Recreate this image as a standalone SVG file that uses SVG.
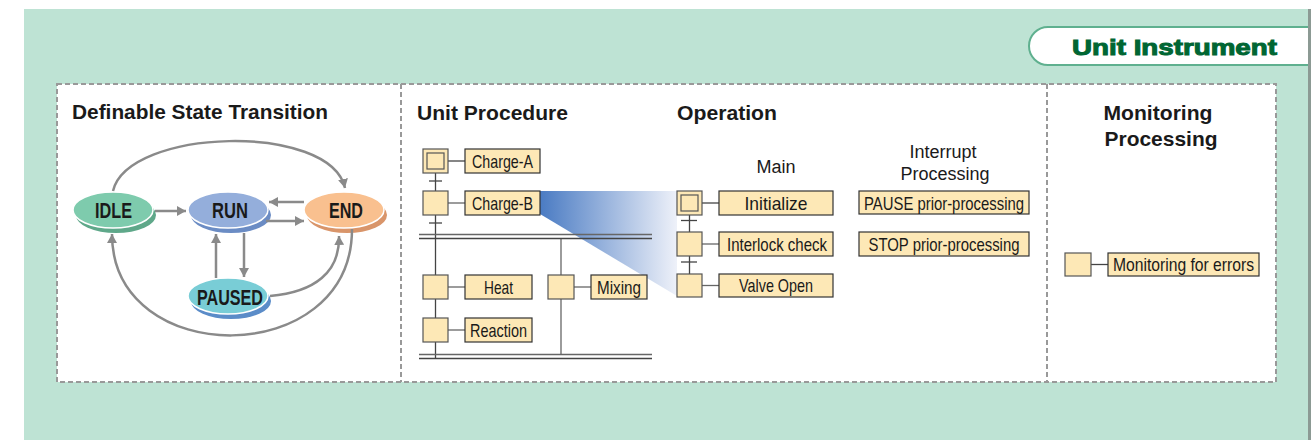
<svg xmlns="http://www.w3.org/2000/svg" width="1316" height="440" viewBox="0 0 1316 440">
<style>
.hd{font-family:"Liberation Sans",Arial,sans-serif;font-weight:bold;font-size:20.5px;fill:#1a1a1a}
.sub{font-family:"Liberation Sans",Arial,sans-serif;font-size:18px;fill:#1a1a1a}
.st{font-family:"Liberation Sans",Arial,sans-serif;font-weight:bold;font-size:21.5px;fill:#1a1a1a}
.lb{font-family:"Liberation Sans",Arial,sans-serif;font-size:18.5px;fill:#1a1a1a}
.box{fill:#fde8b6;stroke:#333;stroke-width:1.2}
.step{fill:#fde8b6;stroke:#555;stroke-width:1.2}
.ln{stroke:#444;stroke-width:1.3;fill:none}
.gl{stroke:#666;stroke-width:1.3;fill:none}
.dash{fill:none;stroke:#999;stroke-width:2;stroke-dasharray:5 3}
.arr{fill:none;stroke:#8a8a8a;stroke-width:2.5;marker-end:url(#ah)}
.top{stroke:#fff;stroke-width:1.5}
</style>
<defs>
<marker id="ah" markerUnits="userSpaceOnUse" markerWidth="10" markerHeight="10" refX="9" refY="5" orient="auto">
<path d="M0,0 L9,5 L0,10 z" fill="#8a8a8a"/>
</marker>
<linearGradient id="bg" x1="0" y1="0" x2="1" y2="0">
<stop offset="0" stop-color="#4a7bc3"/>
<stop offset="1" stop-color="#eef1f9"/>
</linearGradient>
</defs>
<rect x="0" y="0" width="1316" height="440" fill="#fff"/>
<rect x="24" y="9" width="1285" height="431" fill="#bee3d4"/>
<rect x="1308" y="9" width="3" height="431" fill="#8c9a94"/>
<g id="tab">
<path d="M1308,27 L1048,27 A19,19 0 0 0 1048,65 L1308,65" fill="#fff" stroke="#5fb08f" stroke-width="2"/>
<text x="1072" y="55" textLength="205" lengthAdjust="spacingAndGlyphs" style="font-family:'Liberation Sans',Arial,sans-serif;font-weight:bold;font-size:22px;fill:#006633;stroke:#006633;stroke-width:1">Unit Instrument</text>
</g>
<g id="frame">
<rect x="57" y="84" width="1219" height="298" fill="#fff"/>
<rect x="57" y="84" width="1219" height="298" class="dash"/>
<line x1="401" y1="84" x2="401" y2="382" class="dash"/>
<line x1="1047" y1="84" x2="1047" y2="382" class="dash"/>
</g>
<g id="headings">
<text x="72" y="119" class="hd" textLength="256" lengthAdjust="spacingAndGlyphs">Definable State Transition</text>
<text x="417" y="120" class="hd" textLength="151" lengthAdjust="spacingAndGlyphs">Unit Procedure</text>
<text x="677" y="120" class="hd" textLength="100" lengthAdjust="spacingAndGlyphs">Operation</text>
<text x="1103.5" y="120" class="hd" textLength="109" lengthAdjust="spacingAndGlyphs">Monitoring</text>
<text x="1104.5" y="146" class="hd" textLength="113" lengthAdjust="spacingAndGlyphs">Processing</text>
<text x="776" y="173" class="sub" text-anchor="middle">Main</text>
<text x="943" y="158" class="sub" text-anchor="middle">Interrupt</text>
<text x="945" y="180" class="sub" text-anchor="middle">Processing</text>
</g>
<g id="state-idle">
<ellipse cx="116" cy="215" rx="40" ry="18" fill="#5fa88a"/>
<ellipse cx="113" cy="210" rx="40" ry="18" fill="#7ecbad" class="top"/>
<text x="95" y="218" class="st" textLength="37" lengthAdjust="spacingAndGlyphs">IDLE</text>
</g>
<g id="state-run">
<ellipse cx="231" cy="215" rx="40" ry="18" fill="#6b8cc4"/>
<ellipse cx="228" cy="210" rx="40" ry="18" fill="#94aedb" class="top"/>
<text x="212" y="218" class="st" textLength="36" lengthAdjust="spacingAndGlyphs">RUN</text>
</g>
<g id="state-end">
<ellipse cx="347" cy="215" rx="40" ry="18" fill="#d9956a"/>
<ellipse cx="344" cy="210" rx="40" ry="18" fill="#f9c08f" class="top"/>
<text x="329" y="218" class="st" textLength="34" lengthAdjust="spacingAndGlyphs">END</text>
</g>
<g id="state-paused">
<ellipse cx="231" cy="301" rx="40" ry="18" fill="#5b8cc8"/>
<ellipse cx="228" cy="296" rx="40" ry="18" fill="#79cdd6" class="top"/>
<text x="197" y="305" class="st" textLength="66" lengthAdjust="spacingAndGlyphs">PAUSED</text>
</g>
<g id="state-connectors">
<path class="arr" d="M155,211 L186,211"/>
<path class="arr" d="M304,202 L269,202"/>
<path class="arr" d="M266,221 L304,221"/>
<path class="arr" d="M216,278 L216,234"/>
<path class="arr" d="M244,233 L244,277"/>
<path class="arr" d="M113,191 C128,128 330,122 345,188"/>
<path class="arr" d="M352,229 C352,370 112,370 112,234"/>
<path class="arr" d="M270,296 C315,292 340,272 339,236"/>
</g>
<polygon id="zoom-wedge" points="540,191 677,191 677,296 540,214" fill="url(#bg)"/>
<g id="procedure-connectors">
<line x1="435.5" y1="161" x2="435.5" y2="358" class="ln"/>
<line x1="561" y1="238" x2="561" y2="354" class="gl"/>
<line x1="429" y1="181" x2="442" y2="181" class="ln"/>
<line x1="429" y1="223" x2="442" y2="223" class="ln"/>
<line x1="419" y1="234.5" x2="652" y2="234.5" class="gl"/>
<line x1="419" y1="238.5" x2="652" y2="238.5" class="ln"/>
<line x1="419" y1="354.5" x2="652" y2="354.5" class="gl"/>
<line x1="419" y1="358.5" x2="652" y2="358.5" class="ln"/>
<line x1="448" y1="161" x2="465" y2="161" class="ln"/>
<line x1="448" y1="203" x2="465" y2="203" class="gl"/>
<line x1="448" y1="287" x2="465" y2="287" class="gl"/>
<line x1="448" y1="330" x2="465" y2="330" class="gl"/>
<line x1="574" y1="287" x2="591" y2="287" class="gl"/>
</g>
<g id="step-charge-a">
<rect x="423" y="149" width="25" height="24" class="step"/>
<rect x="427" y="153" width="17" height="16" class="step"/>
<rect x="465" y="149" width="75" height="24" class="box"/>
<text x="472" y="167.5" class="lb" textLength="61" lengthAdjust="spacingAndGlyphs">Charge-A</text>
</g>
<g id="step-charge-b">
<rect x="423" y="191" width="25" height="24" class="step"/>
<rect x="465" y="191" width="75" height="24" class="box"/>
<text x="472" y="210" class="lb" textLength="61" lengthAdjust="spacingAndGlyphs">Charge-B</text>
</g>
<g id="step-heat">
<rect x="423" y="275" width="25" height="24" class="step"/>
<rect x="465" y="275" width="67" height="24" class="box"/>
<text x="484" y="294" class="lb" textLength="29" lengthAdjust="spacingAndGlyphs">Heat</text>
</g>
<g id="step-reaction">
<rect x="423" y="318" width="25" height="24" class="step"/>
<rect x="465" y="318" width="67" height="24" class="box"/>
<text x="470" y="336.5" class="lb" textLength="57" lengthAdjust="spacingAndGlyphs">Reaction</text>
</g>
<g id="step-mixing">
<rect x="548" y="275" width="26" height="24" class="step"/>
<rect x="591" y="275" width="56" height="24" class="box"/>
<text x="597" y="294" class="lb" textLength="44" lengthAdjust="spacingAndGlyphs">Mixing</text>
</g>
<g id="operation-connectors">
<line x1="689.5" y1="203" x2="689.5" y2="286" class="ln"/>
<line x1="681" y1="220.5" x2="697" y2="220.5" class="ln"/>
<line x1="681" y1="262" x2="697" y2="262" class="ln"/>
<line x1="702" y1="203" x2="719" y2="203" class="ln"/>
<line x1="702" y1="244" x2="719" y2="244" class="gl"/>
<line x1="702" y1="285.5" x2="719" y2="285.5" class="gl"/>
</g>
<g id="op-initialize">
<rect x="677" y="191" width="25" height="24" class="step"/>
<rect x="681" y="195" width="17" height="16" class="step"/>
<rect x="719" y="191" width="114" height="24" class="box"/>
<text x="744.5" y="210" class="lb" textLength="63" lengthAdjust="spacingAndGlyphs">Initialize</text>
</g>
<g id="op-interlock">
<rect x="677" y="232" width="25" height="24" class="step"/>
<rect x="719" y="232" width="114" height="24" class="box"/>
<text x="727" y="251" class="lb" textLength="100" lengthAdjust="spacingAndGlyphs">Interlock check</text>
</g>
<g id="op-valve">
<rect x="677" y="274" width="25" height="23" class="step"/>
<rect x="719" y="274" width="114" height="23" class="box"/>
<text x="739" y="292" class="lb" textLength="74" lengthAdjust="spacingAndGlyphs">Valve Open</text>
</g>
<g id="int-pause">
<rect x="859" y="191" width="170" height="23" class="box"/>
<text x="864" y="209.5" class="lb" textLength="160" lengthAdjust="spacingAndGlyphs">PAUSE prior-processing</text>
</g>
<g id="int-stop">
<rect x="859" y="232" width="170" height="24" class="box"/>
<text x="868.5" y="251" class="lb" textLength="151" lengthAdjust="spacingAndGlyphs">STOP prior-processing</text>
</g>
<g id="monitor">
<line x1="1091" y1="264.5" x2="1108" y2="264.5" class="ln"/>
<rect x="1065" y="253" width="26" height="23" class="step"/>
<rect x="1108" y="253" width="151" height="23" class="box"/>
<text x="1113" y="271" class="lb" textLength="141" lengthAdjust="spacingAndGlyphs">Monitoring for errors</text>
</g>
</svg>
